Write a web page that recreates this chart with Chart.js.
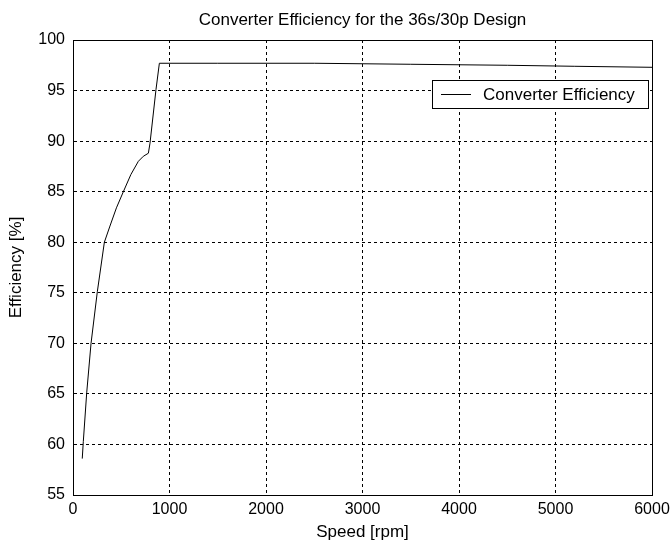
<!DOCTYPE html>
<html>
<head>
<meta charset="utf-8">
<script src="https://cdn.jsdelivr.net/npm/chart.js@4/dist/chart.umd.min.js"></script>
<style>
  html, body { margin: 0; padding: 0; background: #fff; }
  #wrap { width: 671px; height: 542px; }
</style>
</head>
<body>
<div id="wrap"><canvas id="myChart" width="671" height="542"></canvas></div>
<script>
// speed [rpm] and efficiency [%]
var speed = [96, 107, 142, 187, 252, 325, 383, 450, 522, 600, 677, 729, 781, 798, 860, 895, 1500, 2500, 3500, 4500, 5200, 6000];
var efficiency = [58.6, 60.3, 65.1, 70.0, 75.1, 80.0, 81.6, 83.4, 85.0, 86.7, 88.0, 88.5, 88.8, 89.8, 95.1, 97.7, 97.7, 97.7, 97.6, 97.5, 97.4, 97.3];
var xTicks = [0, 1000, 2000, 3000, 4000, 5000, 6000];
var yTicks = [55, 60, 65, 70, 75, 80, 85, 90, 95, 100];

var titleText = 'Converter Efficiency for the 36s/30p Design';
var xTitle = 'Speed [rpm]';
var yTitle = 'Efficiency [%]';
var seriesLabel = 'Converter Efficiency';

var tickFont = { family: '"Liberation Sans", Arial', size: 16 };
var textFont = '17px "Liberation Sans", Arial';

var points = speed.map(function(s, i){ return { x: s, y: efficiency[i] }; });

// title, axis titles, frame and legend box drawn like the matlab figure
var decor = {
  id: 'decor',
  afterDraw: function(chart){
    var ctx = chart.ctx, a = chart.chartArea;
    ctx.save();
    ctx.strokeStyle = '#000';
    ctx.lineWidth = 1;
    ctx.setLineDash([]);
    ctx.strokeRect(Math.round(a.left) + 0.5, Math.round(a.top) + 0.5,
                   Math.round(a.right - a.left), Math.round(a.bottom - a.top));
    ctx.fillStyle = '#000';
    ctx.font = textFont;
    ctx.textAlign = 'center';
    ctx.textBaseline = 'alphabetic';
    ctx.fillText(titleText, (a.left + a.right) / 2, 25);
    ctx.fillText(xTitle, (a.left + a.right) / 2, 537);
    ctx.save();
    ctx.translate(21, (a.top + a.bottom) / 2);
    ctx.rotate(-Math.PI / 2);
    ctx.fillText(yTitle, 0, 0);
    ctx.restore();
    // legend
    var lx = 432, ly = 80, lw = 216, lh = 28;
    ctx.fillStyle = '#fff';
    ctx.fillRect(lx, ly, lw, lh);
    ctx.strokeRect(lx + 0.5, ly + 0.5, lw, lh);
    ctx.beginPath();
    ctx.moveTo(441, ly + 14.5);
    ctx.lineTo(471, ly + 14.5);
    ctx.stroke();
    ctx.fillStyle = '#000';
    ctx.textAlign = 'left';
    ctx.fillText(seriesLabel, 483, ly + 20);
    ctx.restore();
  }
};

var ctx = document.getElementById('myChart');
var effChart = new Chart(ctx, {
  type: 'line',
  data: {
    datasets: [{
      label: seriesLabel,
      data: points,
      borderColor: '#000',
      borderWidth: 1,
      pointRadius: 0,
      tension: 0,
      fill: false
    }]
  },
  options: {
    responsive: false,
    animation: false,
    layout: { padding: { top: 40, right: 19, left: 0, bottom: 0 } },
    plugins: { legend: { display: false }, tooltip: { enabled: false }, title: { display: false } },
    scales: {
      x: {
        type: 'linear',
        min: 0, max: 6000,
        afterBuildTicks: function(s){ s.ticks = xTicks.map(function(v){ return { value: v }; }); },
        afterFit: function(s){ s.height = 47; s.paddingRight = 0; s.paddingLeft = 0; },
        grid: { color: '#000', lineWidth: 1, drawTicks: false },
        border: { display: true, color: '#000', dash: [3, 3] },
        ticks: { color: '#000', font: tickFont, padding: 5, maxRotation: 0,
                 callback: function(v){ return String(v); } }
      },
      y: {
        min: 55, max: 100,
        afterBuildTicks: function(s){ s.ticks = yTicks.map(function(v){ return { value: v }; }); },
        afterFit: function(s){ s.width = 73; s.paddingTop = 0; s.paddingBottom = 0; },
        grid: { color: '#000', lineWidth: 1, drawTicks: false },
        border: { display: true, color: '#000', dash: [3, 3] },
        ticks: { color: '#000', font: tickFont, padding: 8,
                 callback: function(v){ return String(v); } }
      }
    }
  },
  plugins: [decor]
});
</script>
</body>
</html>
